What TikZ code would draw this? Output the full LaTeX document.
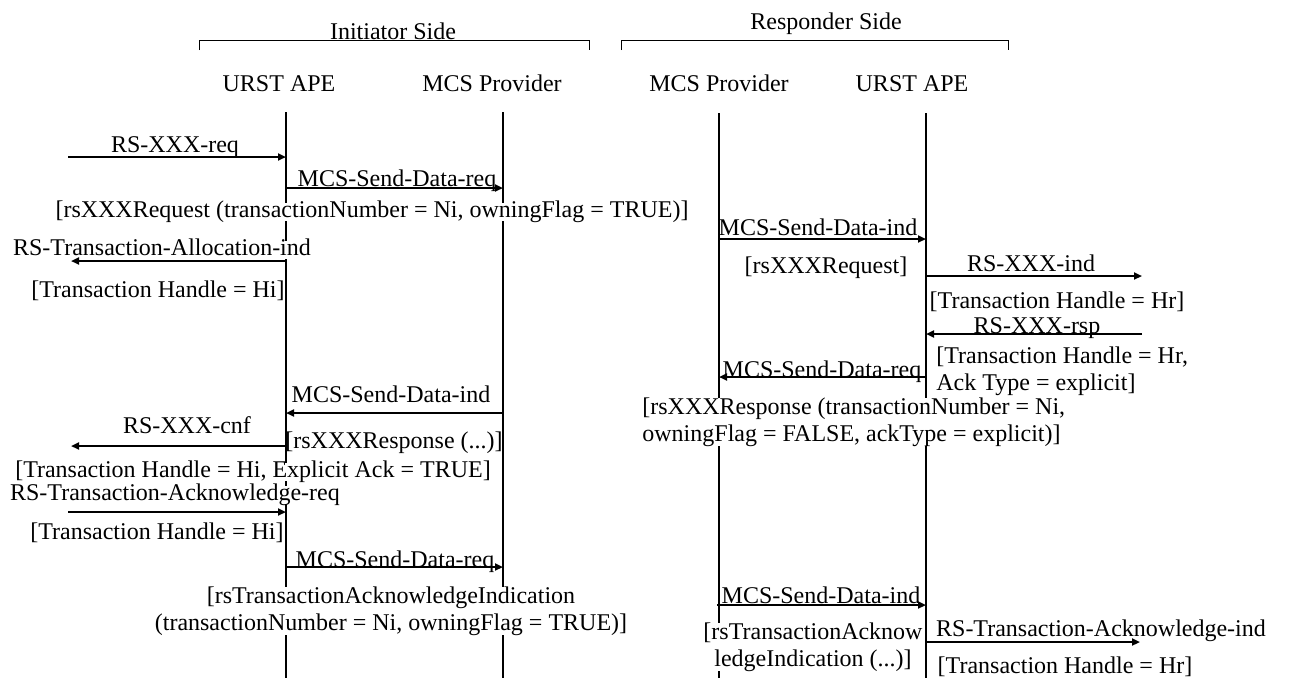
\documentclass[tikz,border=0pt]{standalone}
\usepackage{fontspec}
\setmainfont{Liberation Serif}
\usetikzlibrary{arrows.meta}

\begin{document}
\begin{tikzpicture}[x=0.5pt, y=-0.5pt,
    font=\fontsize{12pt}{13.5pt}\selectfont,
    lifeline/.style={line width=0.75pt},
    msg/.style={line width=1pt, -{Triangle[length=4pt, width=3.5pt]}},
    side/.style={inner sep=0pt, text height=0.7em, text depth=0.2em},
    lbl/.style={side, yshift=-1.5pt},
    cover/.style={lbl, fill=white},
    block/.style={inner sep=0pt, fill=white, yshift=-1.5pt}]
  \useasboundingbox (0,0) rectangle (1305,681);

  % sides
  \draw[line width=0.5pt] (199,50) -- (199,40) -- (589,40) -- (589,50);
  \draw[line width=0.5pt] (621,50) -- (621,40) -- (1008,40) -- (1008,50);
  \node[side] (init) at (393,34) {Initiator Side};
  \node[side] (resp) at (826,24) {Responder Side};

  % entities
  \node[lbl] (ui) at (279,83) {URST APE};
  \node[lbl] (mi) at (492,83) {MCS Provider};
  \node[lbl] (mr) at (719,83) {MCS Provider};
  \node[lbl] (ur) at (912,83) {URST APE};

  % lifelines
  \coordinate (ui-top) at (286,112);
  \coordinate (ui-bot) at (286,678);
  \coordinate (mi-top) at (503,112);
  \coordinate (mi-bot) at (503,678);
  \coordinate (mr-top) at (719,113);
  \coordinate (mr-bot) at (719,678);
  \coordinate (ur-top) at (926,113);
  \coordinate (ur-bot) at (926,678);
  \draw[lifeline] (ui-top) -- (ui-bot);
  \draw[lifeline] (mi-top) -- (mi-bot);
  \draw[lifeline] (mr-top) -- (mr-bot);
  \draw[lifeline] (ur-top) -- (ur-bot);

  % labels
  \node[lbl] (l1) at (175,144) {RS-XXX-req};
  \node[lbl] (l2) at (397,178) {MCS-Send-Data-req};
  \node[cover] (p2) at (372,209) {[rsXXXRequest (transactionNumber = Ni, owningFlag = TRUE)]};
  \node[lbl] (l3) at (818,227) {MCS-Send-Data-ind};
  \node[cover] (l4) at (162,247) {RS-Transaction-Allocation-ind};
  \node[lbl] (p3) at (826,265) {[rsXXXRequest]};
  \node[lbl] (l5) at (1031,263) {RS-XXX-ind};
  \node[lbl] (p4) at (158,289) {[Transaction Handle = Hi]};
  \node[lbl] (p5) at (1057,300) {[Transaction Handle = Hr]};
  \node[lbl] (l6) at (1037,325) {RS-XXX-rsp};
  \node[block, anchor=west, align=left] (p6) at (936,368) {[Transaction Handle = Hr,\\Ack Type = explicit]};
  \node[lbl] (l7) at (822,369) {MCS-Send-Data-req};
  \node[lbl] (l8) at (391,394) {MCS-Send-Data-ind};
  \node[block, anchor=west, align=left] (p7) at (642,419) {[rsXXXResponse (transactionNumber = Ni,\\owningFlag = FALSE, ackType = explicit)]};
  \node[lbl] (l9) at (187,425) {RS-XXX-cnf};
  \node[lbl] (p8) at (394,440) {[rsXXXResponse (...)]};
  \node[cover] (p9) at (253,469) {[Transaction Handle = Hi, Explicit Ack = TRUE]};
  \node[cover] (l10) at (175,492) {RS-Transaction-Acknowledge-req};
  \node[lbl] (p10) at (157,531) {[Transaction Handle = Hi]};
  \node[lbl] (l11) at (395,559) {MCS-Send-Data-req};
  \node[block, align=center] (p11) at (391,608) {[rsTransactionAcknowledgeIndication\\(transactionNumber = Ni, owningFlag = TRUE)]};
  \node[lbl] (l12) at (821,595) {MCS-Send-Data-ind};
  \node[block, align=center] (p12) at (813,644) {[rsTransactionAcknow\\ledgeIndication (...)]};
  \node[lbl] (l13) at (1101,628) {RS-Transaction-Acknowledge-ind};
  \node[lbl] (p13) at (1065,665) {[Transaction Handle = Hr]};

  % message ends
  \coordinate (a1) at (68,157);   \coordinate (b1) at (286,157);
  \coordinate (a2) at (286,188);  \coordinate (b2) at (503,188);
  \coordinate (a3) at (719,239);  \coordinate (b3) at (926,239);
  \coordinate (a4) at (286,261);  \coordinate (b4) at (71,261);
  \coordinate (a5) at (926,276);  \coordinate (b5) at (1142,276);
  \coordinate (a6) at (1142,334); \coordinate (b6) at (926,334);
  \coordinate (a7) at (926,377);  \coordinate (b7) at (719,377);
  \coordinate (a8) at (503,413);  \coordinate (b8) at (286,413);
  \coordinate (a9) at (286,446);  \coordinate (b9) at (71,446);
  \coordinate (a10) at (68,512);  \coordinate (b10) at (286,512);
  \coordinate (a11) at (286,567); \coordinate (b11) at (503,567);
  \coordinate (a12) at (717,605); \coordinate (b12) at (926,605);
  \coordinate (a13) at (926,642); \coordinate (b13) at (1140,642);

  % messages
  \draw[msg] (a1) -- (b1);
  \draw[msg] (a2) -- (b2);
  \draw[msg] (a3) -- (b3);
  \draw[msg] (a4) -- (b4);
  \draw[msg] (a5) -- (b5);
  \draw[msg] (a6) -- (b6);
  \draw[msg] (a7) -- (b7);
  \draw[msg] (a8) -- (b8);
  \draw[msg] (a9) -- (b9);
  \draw[msg] (a10) -- (b10);
  \draw[msg] (a11) -- (b11);
  \draw[msg] (a12) -- (b12);
  \draw[msg] (a13) -- (b13);
\end{tikzpicture}
\end{document}
